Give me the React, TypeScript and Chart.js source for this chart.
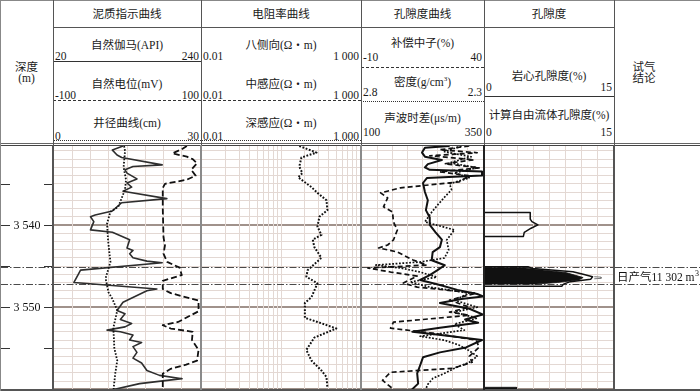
import React, { useEffect, useRef } from 'react';
import { Chart, registerables } from 'chart.js';

Chart.register(...registerables);

// ---------------- data ----------------
const DEPTH_MIN = 3530.4;
const DEPTH_MAX = 3560.2;
const depthTicks = [3535, 3540, 3545, 3550, 3555];
const depthLabels = [3540, 3550];
const gasZone = [3545.1, 3547.2];
const conclusionDepth = 3546.4;
const conclusionText = '日产气11 302 m';
const conclusionSup = '3';

const gridDepths = Array.from({ length: 30 }, (_, i) => 3531 + i);
const linGridTicks = [1, 2, 3, 4, 5, 6, 7];
const logGridTicks = [2, 3, 4, 5, 6, 7, 8, 9, 10, 20, 30, 40, 50, 60, 70, 80, 90];

// Track 1: GR (API), SP (mV), CAL (cm)
const grDepth = [3530.4, 3530.9, 3531.5, 3531.8, 3532.7, 3532.9, 3533.3, 3533.7, 3534.4, 3534.9, 3535.4, 3535.9, 3536.8, 3537.3, 3538.3, 3538.8, 3539.0, 3539.6, 3540.6, 3540.9, 3541.8, 3542.8, 3543.1, 3543.5, 3544.0, 3544.4, 3544.6, 3545.5, 3546.1, 3547.0, 3547.8, 3548.0, 3549.4, 3550.4, 3550.8, 3551.5, 3552.0, 3552.4, 3552.8, 3553.0, 3553.4, 3554.0, 3554.3, 3554.8, 3555.5, 3556.2, 3556.8, 3557.7, 3558.3, 3558.7, 3559.3, 3560.2];
const grValue = [124, 108, 115, 122, 183, 139, 127, 130, 145, 130, 137, 124, 190, 122, 108, 82, 75, 80, 75, 108, 134, 130, 139, 134, 139, 160, 183, 60, 56, 50, 175, 160, 124, 115, 127, 120, 137, 127, 100, 120, 139, 134, 152, 139, 145, 139, 152, 160, 179, 213, 149, 100];

const spDepth = [3530.4, 3530.8, 3531.3, 3531.7, 3532.0, 3532.5, 3533.3, 3534.0, 3534.5, 3535.0, 3535.5, 3538, 3541.5, 3542.5, 3543.5, 3544.5, 3545.2, 3546.1, 3546.8, 3547.8, 3548.3, 3549.2, 3550.5, 3551.8, 3552.2, 3552.6, 3553, 3554, 3555.2, 3556.5, 3557.0, 3557.5, 3558.1, 3560.2];
const spValue = [82, 75, 62, 82, 90, 96, 88, 94, 82, 52, 49, 49, 50, 52, 50, 55, 72, 75, 49, 49, 60, 98, 98, 70, 49, 60, 90, 89, 98, 96, 81, 60, 49, 49];

const calDepth = [3530.4, 3531, 3533, 3534.5, 3535.7, 3537.8, 3538.4, 3539.8, 3541.8, 3543.5, 3544.5, 3546.5, 3548.2, 3549, 3550.4, 3552.5, 3555, 3556.5, 3558, 3560.2];
const calValue = [14.4, 14.6, 14.3, 14.8, 14.6, 13.2, 11.6, 10.9, 11.1, 11.4, 11.6, 10.6, 11.2, 12, 13, 12.2, 12.4, 13.0, 12.6, 12.2];

// Track 2: deep induction (Ω·m)
const resDepth = [3530.4, 3531.2, 3531.8, 3532.9, 3533.7, 3534.2, 3535.4, 3536.1, 3537.0, 3538.2, 3539.0, 3540.2, 3541.2, 3541.8, 3542.7, 3544.0, 3545.5, 3546.3, 3547.1, 3548.8, 3549.5, 3551.3, 3551.8, 3552.6, 3553.7, 3555.2, 3556.5, 3557.7, 3558.5, 3559.8];
const resValue = [12, 42, 14, 12, 15, 11, 29, 45, 87, 93, 52, 45, 60, 32, 36, 60, 22, 20, 45, 29, 18, 18, 45, 178, 36, 20, 29, 60, 87, 93];

// Track 3: CNL (%), DEN (g/cm3), AC (μs/m)
const cnlDepth = [3530.4, 3530.85, 3531.22, 3531.59, 3532.07, 3532.56, 3533.05, 3533.54, 3534.02, 3534.76, 3535.49, 3536.1, 3536.71, 3537.8, 3538.41, 3539.63, 3540.61, 3541.83, 3542.44, 3542.8, 3543.29, 3544.27, 3544.88, 3545.24, 3545.73, 3546.22, 3547.07, 3547.56, 3548.29, 3549.15, 3550.0, 3550.61, 3550.98, 3551.83, 3552.56, 3553.17, 3554.02, 3554.88, 3555.98, 3556.71, 3557.44, 3557.93, 3558.9, 3559.51, 3560.2];
const cnlValue = [34.3, 22.1, 37.6, 18, 36.3, 24.1, 38.4, 22.1, 34.3, 30.2, 5.9, -2.3, 0.6, -1.1, 2.6, 3, 4.6, 3, 0.6, -3.1, 4.6, 11.1, 16.8, -7.6, 1.8, 12.8, 7.1, 12.8, 37.2, 26.2, 34.3, 26.2, 34.3, 3, 1.8, 19.3, 37.2, 38.4, 34.3, 35.5, 27.4, 1.8, -1.5, 1, 3.8];

const denDepth = [3530.4, 3531.1, 3531.71, 3532.44, 3533.05, 3533.66, 3534.27, 3535.0, 3535.73, 3536.46, 3537.56, 3538.41, 3539.63, 3540.61, 3541.83, 3543.05, 3544.02, 3544.51, 3544.88, 3545.24, 3545.73, 3546.34, 3546.95, 3547.56, 3548.29, 3549.15, 3550.0, 3550.61, 3551.34, 3552.07, 3552.8, 3553.54, 3554.02, 3554.63, 3555.24, 3555.98, 3556.71, 3557.44, 3558.05, 3558.66, 3559.39, 3560.2];
const denValue = [2.389, 2.459, 2.349, 2.438, 2.324, 2.418, 2.357, 2.438, 2.43, 2.454, 2.487, 2.511, 2.54, 2.418, 2.45, 2.442, 2.459, 2.56, 2.743, 2.641, 2.56, 2.491, 2.601, 2.52, 2.357, 2.418, 2.324, 2.418, 2.324, 2.418, 2.377, 2.56, 2.459, 2.398, 2.36, 2.324, 2.357, 2.418, 2.459, 2.507, 2.528, 2.54];

const acDepth = [3530.4, 3530.6, 3531.2, 3531.7, 3532.1, 3532.6, 3533.0, 3533.3, 3533.5, 3534.0, 3534.3, 3534.9, 3536.0, 3537.0, 3538.2, 3539.1, 3540.0, 3540.9, 3541.8, 3542.7, 3543.3, 3544.3, 3544.9, 3545.5, 3546.1, 3546.7, 3547.3, 3547.9, 3548.4, 3548.7, 3549.0, 3549.5, 3550.2, 3550.9, 3551.5, 3551.9, 3552.5, 3553.0, 3553.5, 3554.0, 3554.9, 3555.5, 3556.1, 3557.1, 3558.05, 3559.3, 3560.2];
const acValue = [281, 230, 224, 230, 265, 236, 230, 240, 348, 348, 234, 226, 230, 236, 232, 240, 240, 252, 265, 261, 246, 244, 271, 256, 240, 220, 261, 297, 338, 350, 305, 261, 322, 350, 313, 340, 261, 204, 281, 348, 315, 261, 226, 220, 214, 216, 200];

// Track 4: porosity (%)
const coreDepthA = [3538.5, 3538.5, 3539.3, 3539.6, 3540.0, 3540.4, 3540.9, 3541.4, 3541.4];
const coreValueA = [0, 5.3, 5.3, 5.5, 6.2, 5.4, 4.6, 4.5, 0];
const coreDepthB = [3545.1, 3545.1, 3545.3, 3545.7, 3546.0, 3546.3, 3546.6, 3546.9, 3547.2, 3547.45, 3547.45];
const coreValueB = [0, 5.1, 5.6, 10.3, 11.5, 12.6, 12.4, 10.0, 9.2, 9.0, 0];
const ffpDepth = [3545.2, 3545.2, 3545.5, 3545.8, 3546.1, 3546.4, 3546.7, 3547.0, 3547.2, 3547.2];
const ffpValue = [0, 4.5, 7.0, 9.5, 10.5, 11.5, 11.0, 8.5, 6.0, 0];
const ffpSpikeDepth = [3546.3, 3546.35, 3546.5, 3546.55];
const ffpSpikeValue = [12.8, 13.6, 13.6, 12.8];
const bottomDepth = [3559.75, 3559.75, 3560.3, 3560.3];
const bottomValue = [0, 3.7, 3.7, 0];

// ---------------- layout ----------------
const FONT = "'Liberation Serif', 'Noto Sans CJK SC', serif";
const PLOT_TOP = 146;
const PLOT_H = 245;
const GRID = '#e3d8d3';

const pts = (d: number[], v: number[]) => d.map((dd, i) => ({ x: v[i], y: dd }));

const curve = (d: number[], v: number[], xAxisID: string, width: number, dash: number[], color = '#111') => ({
  data: pts(d, v),
  xAxisID,
  yAxisID: 'y',
  showLine: true,
  pointRadius: 0,
  borderColor: color,
  borderWidth: width,
  borderDash: dash,
  fill: false,
  tension: 0,
  borderJoinStyle: 'round',
});

const filled = (d: number[], v: number[], xAxisID: string) => ({
  data: pts(d, v),
  xAxisID,
  yAxisID: 'y',
  showLine: true,
  pointRadius: 0,
  borderColor: '#111',
  borderWidth: 0.8,
  backgroundColor: '#111',
  fill: 'shape',
  tension: 0,
});

const hiddenX = (min: number, max: number, reverse = false, type = 'linear') => ({ type, display: false, min, max, reverse });

const yDepth = (grid: boolean) => ({
  type: 'linear',
  reverse: true,
  min: DEPTH_MIN,
  max: DEPTH_MAX,
  display: grid,
  afterBuildTicks: (s: any) => {
    s.ticks = gridDepths.map((v) => ({ value: v }));
  },
  ticks: { display: false },
  border: { display: false },
  grid: {
    drawTicks: false,
    color: (c: any) => (c.tick && c.tick.value % 10 === 0 ? '#a0928b' : GRID),
    lineWidth: (c: any) => (c.tick && c.tick.value % 10 === 0 ? 2 : 1),
  },
});

const xLinGrid = () => ({
  type: 'linear',
  position: 'bottom',
  min: 0,
  max: 8,
  afterBuildTicks: (s: any) => {
    s.ticks = linGridTicks.map((v) => ({ value: v }));
  },
  ticks: { display: false },
  border: { display: false },
  grid: { drawTicks: false, color: GRID, lineWidth: 1 },
});

const xLogGrid = () => ({
  type: 'logarithmic',
  position: 'bottom',
  min: 1,
  max: 100,
  afterBuildTicks: (s: any) => {
    s.ticks = logGridTicks.map((v) => ({ value: v }));
  },
  ticks: { display: false },
  border: { display: false },
  grid: { drawTicks: false, color: GRID, lineWidth: 1 },
});

const gasLines = {
  id: 'gasLines',
  beforeDatasetsDraw(chart: any) {
    const y = chart.scales.y;
    const ctx = chart.ctx;
    ctx.save();
    ctx.strokeStyle = '#4a4a4a';
    ctx.lineWidth = 1;
    ctx.setLineDash([7, 2, 1.5, 2]);
    gasZone.forEach((d) => {
      const py = Math.round(y.getPixelForValue(d)) + 0.5;
      ctx.beginPath();
      ctx.moveTo(0, py);
      ctx.lineTo(chart.width, py);
      ctx.stroke();
    });
    ctx.restore();
  },
};

const depthAxis = {
  id: 'depthAxis',
  afterDraw(chart: any) {
    const y = chart.scales.y;
    const ctx = chart.ctx;
    const w = chart.width;
    ctx.save();
    ctx.strokeStyle = '#333';
    ctx.lineWidth = 1;
    ctx.fillStyle = '#111';
    ctx.font = `12px ${FONT}`;
    ctx.textAlign = 'center';
    ctx.textBaseline = 'middle';
    depthTicks.forEach((d) => {
      const py = Math.round(y.getPixelForValue(d)) + 0.5;
      ctx.beginPath();
      ctx.moveTo(0, py);
      ctx.lineTo(9, py);
      ctx.moveTo(w - 9, py);
      ctx.lineTo(w, py);
      ctx.stroke();
      if (depthLabels.includes(d)) {
        const s = String(d);
        ctx.fillText(s.slice(0, s.length - 3) + ' ' + s.slice(-3), w / 2, py);
      }
    });
    ctx.restore();
  },
};

const conclusion = {
  id: 'conclusion',
  afterDraw(chart: any) {
    const y = chart.scales.y;
    const ctx = chart.ctx;
    const py = y.getPixelForValue(conclusionDepth);
    ctx.save();
    ctx.fillStyle = '#111';
    ctx.font = `11.5px ${FONT}`;
    ctx.textBaseline = 'middle';
    ctx.fillText(conclusionText, 2, py);
    const w = ctx.measureText(conclusionText).width;
    ctx.font = `8px ${FONT}`;
    ctx.fillText(conclusionSup, 2 + w + 0.5, py - 4);
    ctx.restore();
  },
};

const baseOptions = (scales: any) => ({
  responsive: false,
  animation: false,
  events: [],
  devicePixelRatio: 1,
  layout: { padding: 0 },
  plugins: { legend: { display: false }, tooltip: { enabled: false }, title: { display: false } },
  scales,
});

const track1 = () => ({
  type: 'scatter',
  data: {
    datasets: [
      curve(calDepth, calValue, 'xCAL', 1.8, [1.6, 1.6]),
      curve(spDepth, spValue, 'xSP', 1.8, [6, 3]),
      curve(grDepth, grValue, 'xGR', 1.6, [], '#2e2e2e'),
    ],
  },
  options: baseOptions({
    y: yDepth(true),
    xg: xLinGrid(),
    xGR: hiddenX(20, 240),
    xSP: hiddenX(-100, 100),
    xCAL: hiddenX(0, 30),
  }),
  plugins: [gasLines],
});

const track2 = () => ({
  type: 'scatter',
  data: { datasets: [curve(resDepth, resValue, 'xR', 2, [1.8, 1.6])] },
  options: baseOptions({
    y: yDepth(true),
    xg: xLogGrid(),
    xR: hiddenX(0.01, 1000, false, 'logarithmic'),
  }),
  plugins: [gasLines],
});

const track3 = () => ({
  type: 'scatter',
  data: {
    datasets: [
      curve(denDepth, denValue, 'xDEN', 1.7, [1.8, 1.6]),
      curve(cnlDepth, cnlValue, 'xCNL', 1.7, [5, 3]),
      curve(acDepth, acValue, 'xAC', 2, []),
    ],
  },
  options: baseOptions({
    y: yDepth(true),
    xg: xLinGrid(),
    xCNL: hiddenX(-10, 40),
    xDEN: hiddenX(2.3, 2.8, true),
    xAC: hiddenX(100, 350),
  }),
  plugins: [gasLines],
});

const track4 = () => ({
  type: 'scatter',
  data: {
    datasets: [
      filled(ffpDepth, ffpValue, 'xP'),
      filled(bottomDepth, bottomValue, 'xP'),
      curve(ffpSpikeDepth, ffpSpikeValue, 'xP', 1, [], '#777'),
      curve(coreDepthA, coreValueA, 'xP', 1.5, []),
      curve(coreDepthB, coreValueB, 'xP', 1.5, []),
    ],
  },
  options: baseOptions({
    y: yDepth(true),
    xg: xLinGrid(),
    xP: hiddenX(0, 15),
  }),
  plugins: [gasLines],
});

const plainTrack = (extra: any) => () => ({
  type: 'scatter',
  data: { datasets: [] },
  options: baseOptions({ y: yDepth(false), x: hiddenX(0, 1) }),
  plugins: [gasLines, extra],
});

function ChartCanvas({ left, width, build }: { left: number; width: number; build: () => any }) {
  const ref = useRef<HTMLCanvasElement | null>(null);
  useEffect(() => {
    if (!ref.current) return;
    const chart = new Chart(ref.current, build() as any);
    return () => chart.destroy();
  }, []);
  return (
    <canvas
      ref={ref}
      width={width}
      height={PLOT_H}
      style={{ position: 'absolute', left, top: PLOT_TOP, width, height: PLOT_H }}
    />
  );
}

function Txt({ x, w, cy, align = 'center', size = 11.5, children }: any) {
  return (
    <div
      style={{
        position: 'absolute',
        left: x,
        width: w,
        top: cy - 8,
        height: 16,
        lineHeight: '16px',
        fontSize: size,
        textAlign: align,
        whiteSpace: 'nowrap',
        color: '#1a1a1a',
      }}
    >
      {children}
    </div>
  );
}

function HL({ x1, x2, y, kind = 'solid', color = '#444', t = 1 }: any) {
  return <div style={{ position: 'absolute', left: x1, top: y, width: x2 - x1, height: 0, borderTop: `${t}px ${kind} ${color}` }} />;
}

function VL({ x, y1, y2, color = '#555', t = 1 }: any) {
  return <div style={{ position: 'absolute', left: x - t / 2, top: y1, width: t, height: y2 - y1, background: color }} />;
}

const B = [0, 53, 201, 361, 484, 614, 700];

function Scale({ i, cy, l, r }: any) {
  const x = B[i] + 2;
  const w = B[i + 1] - B[i] - 4;
  return (
    <>
      <Txt x={x} w={w} cy={cy} align="left">{l}</Txt>
      <Txt x={x} w={w} cy={cy} align="right">{r}</Txt>
    </>
  );
}

function Label({ i, cy, children }: any) {
  return <Txt x={B[i]} w={B[i + 1] - B[i]} cy={cy}>{children}</Txt>;
}

const sup = (s: string) => <span style={{ fontSize: 7, verticalAlign: 'super', lineHeight: 0 }}>{s}</span>;

export default function App() {
  return (
    <div style={{ position: 'fixed', left: 0, top: 0, width: 700, height: 391, background: '#fff', overflow: 'hidden', fontFamily: FONT }}>
      {/* plot tracks */}
      <ChartCanvas left={1} width={52} build={plainTrack(depthAxis)} />
      <ChartCanvas left={54} width={146} build={track1} />
      <ChartCanvas left={202} width={158} build={track2} />
      <ChartCanvas left={362} width={121} build={track3} />
      <ChartCanvas left={485} width={128} build={track4} />
      <ChartCanvas left={615} width={85} build={plainTrack(conclusion)} />

      {/* header texts */}
      <Label i={0} cy={67}>深度</Label>
      <Label i={0} cy={78}>(m)</Label>

      <Label i={1} cy={14}>泥质指示曲线</Label>
      <Label i={1} cy={45}>自然伽马(API)</Label>
      <Scale i={1} cy={55.5} l="20" r="240" />
      <Label i={1} cy={84}>自然电位(mV)</Label>
      <Scale i={1} cy={94.5} l="-100" r="100" />
      <Label i={1} cy={123}>井径曲线(cm)</Label>
      <Scale i={1} cy={136} l="0" r="30" />

      <Label i={2} cy={14}>电阻率曲线</Label>
      <Label i={2} cy={45}>八侧向(Ω・m)</Label>
      <Scale i={2} cy={55.5} l="0.01" r="1 000" />
      <Label i={2} cy={84}>中感应(Ω・m)</Label>
      <Scale i={2} cy={94.5} l="0.01" r="1 000" />
      <Label i={2} cy={123}>深感应(Ω・m)</Label>
      <Scale i={2} cy={136} l="0.01" r="1 000" />

      <Label i={3} cy={14}>孔隙度曲线</Label>
      <Label i={3} cy={43}>补偿中子(%)</Label>
      <Scale i={3} cy={57} l="-10" r="40" />
      <Label i={3} cy={82}>密度(g/cm{sup('3')})</Label>
      <Scale i={3} cy={92} l="2.8" r="2.3" />
      <Label i={3} cy={118}>声波时差(μs/m)</Label>
      <Scale i={3} cy={132} l="100" r="350" />

      <Label i={4} cy={14}>孔隙度</Label>
      <Label i={4} cy={76}>岩心孔隙度(%)</Label>
      <Scale i={4} cy={87} l="0" r="15" />
      <Label i={4} cy={115}>计算自由流体孔隙度(%)</Label>
      <Scale i={4} cy={132} l="0" r="15" />

      <Txt x={614} w={60} cy={67}>试气</Txt>
      <Txt x={614} w={60} cy={78}>结论</Txt>

      {/* header lines */}
      <HL x1={0} x2={700} y={0} color="#888" />
      <HL x1={53} x2={614} y={27} color="#555" />
      <HL x1={53} x2={201} y={61} color="#333" />
      <HL x1={53} x2={361} y={100} kind="dashed" color="#333" />
      <HL x1={53} x2={361} y={140} kind="dotted" color="#333" />
      <HL x1={361} x2={484} y={67} kind="dashed" color="#333" />
      <HL x1={361} x2={484} y={101} kind="dotted" color="#333" />
      <HL x1={484} x2={614} y={96} color="#333" />
      <HL x1={0} x2={700} y={143} color="#666" />
      <HL x1={0} x2={700} y={145} color="#444" t={1.5} />
      <HL x1={0} x2={700} y={388.5} color="#555" t={2} />

      {/* vertical borders */}
      <VL x={0.5} y1={0} y2={391} color="#888" />
      {B.slice(1, 6).map((x) => (
        <VL key={'h' + x} x={x} y1={0} y2={145} color="#555" />
      ))}
      <VL x={53} y1={145} y2={390} color="#555" t={2} />
      <VL x={201} y1={145} y2={390} color="#8a8a8a" t={2} />
      <VL x={361} y1={145} y2={390} color="#8a8a8a" t={2} />
      <VL x={484} y1={145} y2={390} color="#222" t={2} />
      <VL x={614} y1={145} y2={390} color="#555" t={1.5} />
    </div>
  );
}
